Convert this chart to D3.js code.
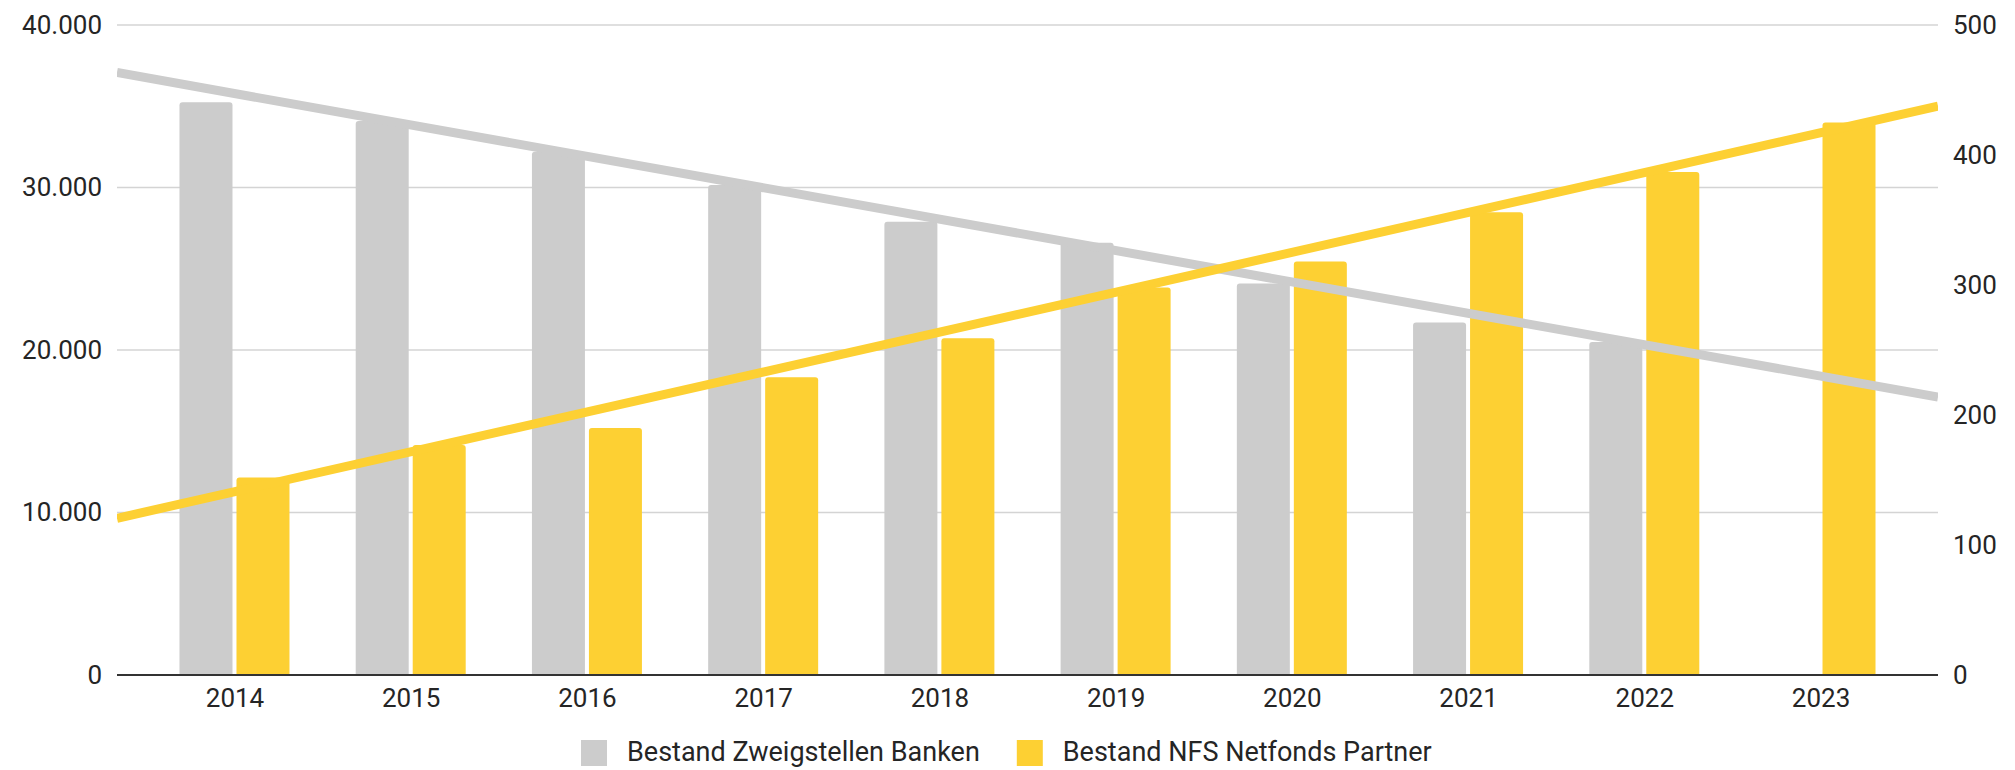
<!DOCTYPE html>
<html>
<head>
<meta charset="utf-8">
<script src="https://cdn.jsdelivr.net/npm/d3@7"></script>
<style>
  html, body { margin: 0; padding: 0; background: #ffffff; }
  svg { display: block; font-family: Roboto, "Noto Sans", sans-serif; }
</style>
</head>
<body>
<svg id="chart" width="2015" height="770"></svg>
<script>
// ---- data ----
const years = [2014, 2015, 2016, 2017, 2018, 2019, 2020, 2021, 2022, 2023];
const bankBranches = [35250, 34100, 32200, 30150, 27900, 26600, 24100, 21700, 20500, null];
const nfsPartners = [152, 177, 190, 229, 259, 298, 318, 356, 387, 425];
const leftTicks = [0, 10000, 20000, 30000, 40000];
const rightTicks = [0, 100, 200, 300, 400, 500];
const seriesNames = ["Bestand Zweigstellen Banken", "Bestand NFS Netfonds Partner"];
const seriesColors = ["#cccccc", "#fdd033"];

// ---- layout ----
const plot = { left: 117, right: 1938, top: 25, bottom: 675 };
const svg = d3.select("#chart");

const x = d3.scaleLinear().domain([2013 + 1/3, 2023 + 2/3]).range([plot.left, plot.right]);
const yL = d3.scaleLinear().domain([0, 40000]).range([plot.bottom, plot.top]);
const yR = d3.scaleLinear().domain([0, 500]).range([plot.bottom, plot.top]);

const de = d3.formatLocale({ decimal: ",", thousands: ".", grouping: [3], currency: ["", " €"] });
const fmt = de.format(",d");

// gridlines
svg.append("g").selectAll("line").data(leftTicks.filter(d => d !== 0)).join("line")
  .attr("x1", plot.left).attr("x2", plot.right)
  .attr("y1", d => yL(d)).attr("y2", d => yL(d))
  .attr("stroke", "#d4d4d4").attr("stroke-width", 1.5);

// bars
function topRounded(x0, x1, yTop, yBot, r) {
  r = Math.min(r, (x1 - x0) / 2, Math.max(0, yBot - yTop));
  return `M${x0},${yBot}V${yTop + r}Q${x0},${yTop} ${x0 + r},${yTop}H${x1 - r}Q${x1},${yTop} ${x1},${yTop + r}V${yBot}Z`;
}
const barW = 53, gap = 4;
const bankData = years.map((yr, i) => ({ yr, v: bankBranches[i] })).filter(d => d.v != null);
const nfsData = years.map((yr, i) => ({ yr, v: nfsPartners[i] })).filter(d => d.v != null);

svg.append("g").selectAll("path").data(bankData).join("path")
  .attr("d", d => topRounded(x(d.yr) - gap / 2 - barW, x(d.yr) - gap / 2, yL(d.v), yL(0), 3))
  .attr("fill", seriesColors[0]);
svg.append("g").selectAll("path").data(nfsData).join("path")
  .attr("d", d => topRounded(x(d.yr) + gap / 2, x(d.yr) + gap / 2 + barW, yR(d.v), yR(0), 3))
  .attr("fill", seriesColors[1]);

// baseline
svg.append("line")
  .attr("x1", plot.left).attr("x2", plot.right)
  .attr("y1", yL(0)).attr("y2", yL(0))
  .attr("stroke", "#333333").attr("stroke-width", 2);

// linear trend lines (least squares over the data)
function fit(data) {
  const mx = d3.mean(data, d => d.yr), my = d3.mean(data, d => d.v);
  const sxy = d3.sum(data, d => (d.yr - mx) * (d.v - my));
  const sxx = d3.sum(data, d => (d.yr - mx) ** 2);
  const b = sxy / sxx;
  return t => my + b * (t - mx);
}
svg.append("clipPath").attr("id", "plotclip").append("rect")
  .attr("x", plot.left).attr("y", 0).attr("width", plot.right - plot.left).attr("height", plot.bottom);
const trendG = svg.append("g").attr("clip-path", "url(#plotclip)");
const dom = x.domain();
[[bankData, yL, seriesColors[0]], [nfsData, yR, seriesColors[1]]].forEach(([data, ys, col]) => {
  const f = fit(data);
  trendG.append("path")
    .datum(dom)
    .attr("d", d3.line().x(t => x(t)).y(t => ys(f(t))))
    .attr("fill", "none").attr("stroke", col).attr("stroke-width", 9);
});

// axes labels
const txtColor = "#252525";
const axL = d3.axisLeft(yL).tickValues(leftTicks).tickFormat(fmt).tickSize(0).tickPadding(15);
svg.append("g").attr("transform", `translate(${plot.left},0)`).call(axL)
  .call(g => g.select(".domain").remove())
  .selectAll("text").attr("font-size", 26).attr("fill", txtColor).attr("font-family", "Roboto");

const axR = d3.axisRight(yR).tickValues(rightTicks).tickFormat(d3.format("d")).tickSize(0).tickPadding(15);
svg.append("g").attr("transform", `translate(${plot.right},0)`).call(axR)
  .call(g => g.select(".domain").remove())
  .selectAll("text").attr("font-size", 26).attr("fill", txtColor).attr("font-family", "Roboto");

const axB = d3.axisBottom(x).tickValues(years).tickFormat(d3.format("d")).tickSize(0).tickPadding(14);
svg.append("g").attr("transform", `translate(0,${plot.bottom})`).call(axB)
  .call(g => g.select(".domain").remove())
  .selectAll("text").attr("font-size", 26).attr("fill", txtColor).attr("font-family", "Roboto");

// legend
const legend = svg.append("g").attr("transform", "translate(581,752)");
const sw = 26, swGap = 20, itemGap = 37;
let cx = 0;
seriesNames.forEach((name, i) => {
  const g = legend.append("g").attr("transform", `translate(${cx},0)`);
  g.append("rect").attr("x", 0).attr("y", -12).attr("width", sw).attr("height", sw).attr("fill", seriesColors[i]);
  const t = g.append("text").attr("x", sw + swGap).attr("y", 0).attr("dy", "0.35em")
    .attr("font-size", 27).attr("fill", txtColor).text(name);
  cx += sw + swGap + t.node().getComputedTextLength() + itemGap;
});
</script>
</body>
</html>
